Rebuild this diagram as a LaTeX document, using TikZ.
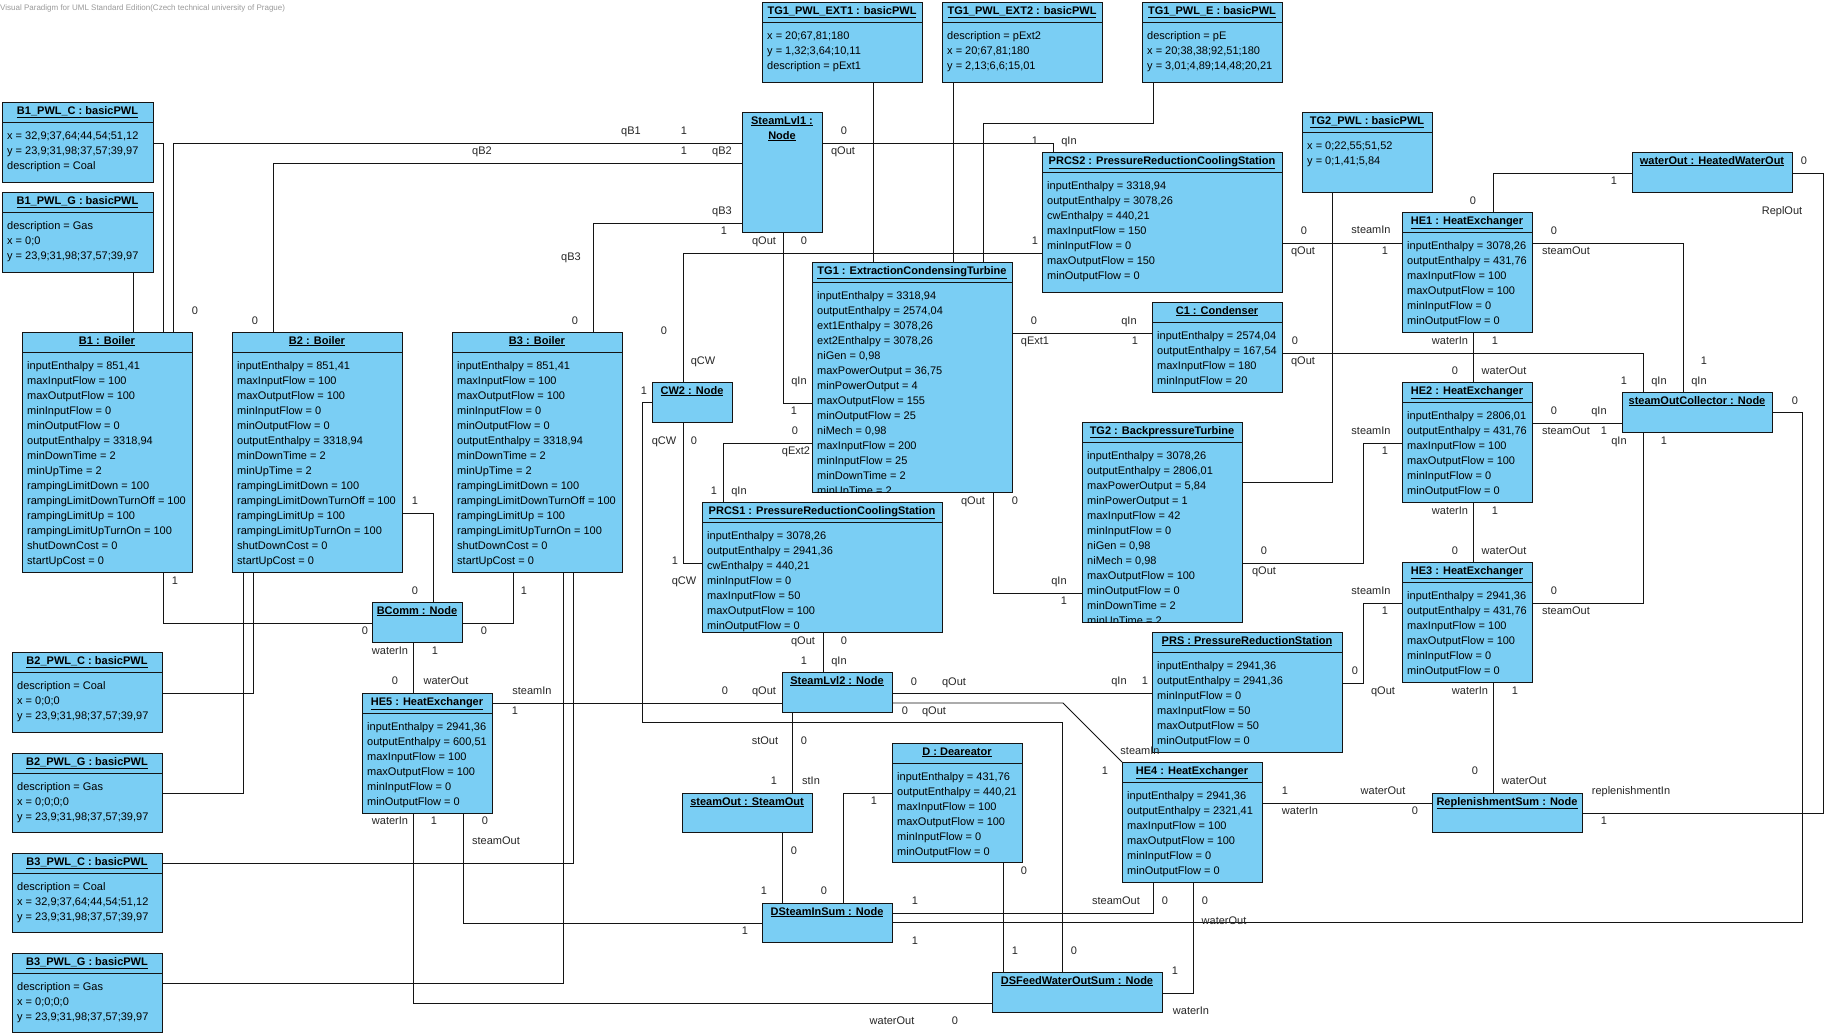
\documentclass[tikz,border=0pt]{standalone}
\usepackage{fontspec}
\setmainfont{Liberation Sans}
\usetikzlibrary{calc}
\definecolor{VPBlue}{HTML}{7ACEF4}
\definecolor{VPInk}{HTML}{141414}
\definecolor{VPGray}{HTML}{9A9A9A}

% object box with attribute compartment: name, x, y, w, h, title, attribute lines
\newcommand{\vpobject}[7]{%
  \node[vpbox, minimum width=#4pt, minimum height=#5pt] (#1) at (#2,#3) {};
  \draw[vpsep] ({#2},{#3+20}) -- ++(#4,0);
  \node[vptitle] (#1-t) at ({#2+#4/2},{#3+12}) {\underline{#6}};
  \begin{scope}
    \clip ({#2},{#3}) rectangle ++(#4,#5);
    \foreach \attr [count=\k] in {#7}
      \node[vpattr] (#1-a\k) at ({#2+5},{#3+22+15*\k}) {\attr};
  \end{scope}
}
% object box with title only: name, x, y, w, h, title
\newcommand{\vpnode}[6]{%
  \node[vpbox, minimum width=#4pt, minimum height=#5pt] (#1) at (#2,#3) {};
  \node[vptitle] (#1-t) at ({#2+#4/2},{#3+12}) {\underline{#6}};
}

\begin{document}
\begin{tikzpicture}[x=1pt, y=-1pt,
  vpbox/.style={draw=VPInk, fill=VPBlue, line width=0.9pt, anchor=north west, inner sep=0pt, outer sep=0pt},
  vpsep/.style={draw=VPInk, line width=0.9pt},
  vptitle/.style={anchor=base, inner sep=0pt, font=\bfseries\fontsize{11}{13}\selectfont},
  vpattr/.style={anchor=base west, inner sep=0pt, font=\fontsize{11}{13}\selectfont},
  vplbl/.style={inner sep=0pt, text height=8pt, text depth=0pt, text=black!85, font=\fontsize{11}{13}\selectfont},
  vpline/.style={draw=VPInk, line width=0.8pt}]

  \fill[white] (0,0) rectangle (1826,1036);
  \useasboundingbox (0,0) rectangle (1826,1036);

  \node[anchor=base west, inner sep=0pt, text=VPGray, font=\fontsize{8}{9}\selectfont] (wm) at (0,10)
    {Visual Paradigm for UML Standard Edition(Czech technical university of Prague)};

  %% Boiler curves and boilers
  \vpobject{B1PC}{2}{102}{151}{80}{B1\_PWL\_C : basicPWL}{{x = 32,9;37,64;44,54;51,12},{y = 23,9;31,98;37,57;39,97},{description = Coal}}
  \vpobject{B1PG}{2}{192}{151}{80}{B1\_PWL\_G : basicPWL}{{description = Gas},{x = 0;0},{y = 23,9;31,98;37,57;39,97}}
  \vpobject{B2PC}{12}{652}{150}{80}{B2\_PWL\_C : basicPWL}{{description = Coal},{x = 0;0;0},{y = 23,9;31,98;37,57;39,97}}
  \vpobject{B2PG}{12}{753}{150}{79}{B2\_PWL\_G : basicPWL}{{description = Gas},{x = 0;0;0;0},{y = 23,9;31,98;37,57;39,97}}
  \vpobject{B3PC}{12}{853}{150}{79}{B3\_PWL\_C : basicPWL}{{description = Coal},{x = 32,9;37,64;44,54;51,12},{y = 23,9;31,98;37,57;39,97}}
  \vpobject{B3PG}{12}{953}{150}{79}{B3\_PWL\_G : basicPWL}{{description = Gas},{x = 0;0;0;0},{y = 23,9;31,98;37,57;39,97}}
  \foreach \bn/\bx in {B1/22, B2/232, B3/452} {%
    \vpobject{\bn}{\bx}{332}{170}{240}{\bn\ : Boiler}{{inputEnthalpy = 851,41},{maxInputFlow = 100},{maxOutputFlow = 100},{minInputFlow = 0},{minOutputFlow = 0},{outputEnthalpy = 3318,94},{minDownTime = 2},{minUpTime = 2},{rampingLimitDown = 100},{rampingLimitDownTurnOff = 100},{rampingLimitUp = 100},{rampingLimitUpTurnOn = 100},{shutDownCost = 0},{startUpCost = 0}}
  }

  %% Turbine curves and turbines
  \vpobject{TG1E1}{762}{2}{160}{80}{TG1\_PWL\_EXT1 : basicPWL}{{x = 20;67,81;180},{y = 1,32;3,64;10,11},{description = pExt1}}
  \vpobject{TG1E2}{942}{2}{160}{80}{TG1\_PWL\_EXT2 : basicPWL}{{description = pExt2},{x = 20;67,81;180},{y = 2,13;6,6;15,01}}
  \vpobject{TG1E}{1142}{2}{140}{80}{TG1\_PWL\_E : basicPWL}{{description = pE},{x = 20;38,38;92,51;180},{y = 3,01;4,89;14,48;20,21}}
  \vpobject{TG2PWL}{1302}{112}{130}{80}{TG2\_PWL : basicPWL}{{x = 0;22,55;51,52},{y = 0;1,41;5,84}}
  \vpobject{TG1}{812}{262}{200}{230}{TG1 : ExtractionCondensingTurbine}{{inputEnthalpy = 3318,94},{outputEnthalpy = 2574,04},{ext1Enthalpy = 3078,26},{ext2Enthalpy = 3078,26},{niGen = 0,98},{maxPowerOutput = 36,75},{minPowerOutput = 4},{maxOutputFlow = 155},{minOutputFlow = 25},{niMech  = 0,98},{maxInputFlow = 200},{minInputFlow = 25},{minDownTime = 2},{minUpTime = 2}}
  \vpobject{TG2}{1082}{422}{160}{200}{TG2 : BackpressureTurbine}{{inputEnthalpy = 3078,26},{outputEnthalpy = 2806,01},{maxPowerOutput = 5,84},{minPowerOutput = 1},{maxInputFlow = 42},{minInputFlow = 0},{niGen = 0,98},{niMech  = 0,98},{maxOutputFlow = 100},{minOutputFlow = 0},{minDownTime = 2},{minUpTime = 2}}
  \vpobject{C1}{1152}{302}{130}{90}{C1 : Condenser}{{inputEnthalpy = 2574,04},{outputEnthalpy = 167,54},{maxInputFlow = 180},{minInputFlow = 20}}

  %% Reduction stations
  \vpobject{PRCS2}{1042}{152}{240}{140}{PRCS2 : PressureReductionCoolingStation}{{inputEnthalpy = 3318,94},{outputEnthalpy = 3078,26},{cwEnthalpy = 440,21},{maxInputFlow = 150},{minInputFlow = 0},{maxOutputFlow = 150},{minOutputFlow = 0}}
  \vpobject{PRCS1}{702}{502}{240}{130}{PRCS1 : PressureReductionCoolingStation}{{inputEnthalpy = 3078,26},{outputEnthalpy = 2941,36},{cwEnthalpy = 440,21},{minInputFlow = 0},{maxInputFlow = 50},{maxOutputFlow = 100},{minOutputFlow = 0}}
  \vpobject{PRS}{1152}{632}{190}{120}{PRS : PressureReductionStation}{{inputEnthalpy = 2941,36},{outputEnthalpy = 2941,36},{minInputFlow = 0},{maxInputFlow = 50},{maxOutputFlow = 50},{minOutputFlow = 0}}

  %% Heat exchangers and deareator
  \vpobject{HE1}{1402}{212}{130}{120}{HE1 : HeatExchanger}{{inputEnthalpy = 3078,26},{outputEnthalpy = 431,76},{maxInputFlow = 100},{maxOutputFlow = 100},{minInputFlow = 0},{minOutputFlow = 0}}
  \vpobject{HE2}{1402}{382}{130}{120}{HE2 : HeatExchanger}{{inputEnthalpy = 2806,01},{outputEnthalpy = 431,76},{maxInputFlow = 100},{maxOutputFlow = 100},{minInputFlow = 0},{minOutputFlow = 0}}
  \vpobject{HE3}{1402}{562}{130}{120}{HE3 : HeatExchanger}{{inputEnthalpy = 2941,36},{outputEnthalpy = 431,76},{maxInputFlow = 100},{maxOutputFlow = 100},{minInputFlow = 0},{minOutputFlow = 0}}
  \vpobject{HE4}{1122}{762}{140}{120}{HE4 : HeatExchanger}{{inputEnthalpy = 2941,36},{outputEnthalpy = 2321,41},{maxInputFlow = 100},{maxOutputFlow = 100},{minInputFlow = 0},{minOutputFlow = 0}}
  \vpobject{HE5}{362}{693}{130}{120}{HE5 : HeatExchanger}{{inputEnthalpy = 2941,36},{outputEnthalpy = 600,51},{maxInputFlow = 100},{maxOutputFlow = 100},{minInputFlow = 0},{minOutputFlow = 0}}
  \vpobject{D}{892}{743}{130}{119}{D : Deareator}{{inputEnthalpy = 431,76},{outputEnthalpy = 440,21},{maxInputFlow = 100},{maxOutputFlow = 100},{minInputFlow = 0},{minOutputFlow = 0}}

  %% Nodes
  \node[vpbox, minimum width=80pt, minimum height=120pt] (SL1) at (742,112) {};
  \node[vptitle] (SL1-t) at (782,124) {\underline{SteamLvl1 :}};
  \node[vptitle] (SL1-u) at (782,139) {\underline{Node}};
  \vpnode{WO}{1632}{152}{160}{40}{waterOut : HeatedWaterOut}
  \vpnode{CW2}{652}{382}{80}{40}{CW2 : Node}
  \vpnode{SOC}{1622}{392}{150}{40}{steamOutCollector : Node}
  \vpnode{BC}{372}{602}{90}{40}{BComm : Node}
  \vpnode{SL2}{782}{672}{110}{40}{SteamLvl2 : Node}
  \vpnode{SO}{682}{793}{130}{39}{steamOut : SteamOut}
  \vpnode{RS}{1432}{793}{150}{39}{ReplenishmentSum : Node}
  \vpnode{DSIS}{762}{903}{130}{39}{DSteamInSum : Node}
  \vpnode{DSFW}{992}{972}{170}{40}{DSFeedWaterOutSum : Node}

  %% Links: curves to their units
  \draw[vpline] (B1PG.south -| 133,0) -- (B1.north -| 133,0);
  \draw[vpline] (B1PC.east |- 0,143) -| (B1.north -| 163,0);
  \draw[vpline] (B2PC.east |- 0,693) -| (B2.south -| 253,0);
  \draw[vpline] (B2PG.east |- 0,793) -| (B2.south -| 243,0);
  \draw[vpline] (B3PC.east |- 0,863) -| (B3.south -| 573,0);
  \draw[vpline] (B3PG.east |- 0,983) -| (B3.south -| 563,0);
  \draw[vpline] (TG1E1.south -| 873,0) -- (TG1.north -| 873,0);
  \draw[vpline] (TG1E2.south -| 953,0) -- (TG1.north -| 953,0);
  \draw[vpline] (TG1E.south -| 1153,0) |- (983,123) -- (TG1.north -| 983,0);
  \draw[vpline] (TG2PWL.south -| 1332,0) |- (TG2.east |- 0,482);

  %% Links: steam level 1
  \draw[vpline] (B1.north -| 173,0) |- (SL1.west |- 0,143);
  \draw[vpline] (B2.north -| 273,0) |- (SL1.west |- 0,163);
  \draw[vpline] (B3.north -| 593,0) |- (SL1.west |- 0,223);
  \draw[vpline] (SL1.east |- 0,143) -| (PRCS2.north -| 1053,0);
  \draw[vpline] (SL1.south -| 783,0) |- (TG1.west |- 0,403);
  \draw[vpline] (PRCS2.west |- 0,253) -| (CW2.north -| 683,0);
  \draw[vpline] (CW2.south -| 683,0) |- (PRCS1.west |- 0,563);
  \draw[vpline] (CW2.west |- 0,402) -| (642,722) -| (DSFW.north -| 1062,0);

  %% Links: turbines, condenser, exchangers
  \draw[vpline] (PRCS2.east |- 0,243) -- (HE1.west |- 0,243);
  \draw[vpline] (TG1.east |- 0,333) -- (C1.west |- 0,333);
  \draw[vpline] (TG1.west |- 0,443) -| (PRCS1.north -| 723,0);
  \draw[vpline] (TG1.south -| 993,0) |- (TG2.west |- 0,593);
  \draw[vpline] (TG2.east |- 0,563) -| (1363,443) -- (HE2.west |- 0,443);
  \draw[vpline] (PRS.east |- 0,683) -| (1363,603) -- (HE3.west |- 0,603);
  \draw[vpline] (C1.east |- 0,353) -| (SOC.north -| 1643,0);
  \draw[vpline] (HE1.east |- 0,243) -| (SOC.north -| 1683,0);
  \draw[vpline] (HE2.east |- 0,423) -- (SOC.west |- 0,423);
  \draw[vpline] (HE3.east |- 0,603) -| (SOC.south -| 1643,0);
  \draw[vpline] (SOC.east |- 0,412) -| (1802,922) -- (DSIS.east |- 0,922);
  \draw[vpline] (HE1.north -| 1493,0) |- (WO.west |- 0,173);
  \draw[vpline] (WO.east |- 0,173) -| (1823,813) -- (RS.east |- 0,813);
  \draw[vpline] (HE1.south -| 1473,0) -- (HE2.north -| 1473,0);
  \draw[vpline] (HE2.south -| 1473,0) -- (HE3.north -| 1473,0);
  \draw[vpline] (HE3.south -| 1493,0) -- (RS.north -| 1493,0);
  \draw[vpline] (HE4.east |- 0,803) -- (RS.west |- 0,803);

  %% Links: boiler water and steam level 2
  \draw[vpline] (B1.south -| 163,0) |- (BC.west |- 0,623);
  \draw[vpline] (B2.east |- 0,513) -| (BC.north -| 433,0);
  \draw[vpline] (B3.south -| 513,0) |- (BC.east |- 0,623);
  \draw[vpline] (BC.south -| 413,0) -- (HE5.north -| 413,0);
  \draw[vpline] (HE5.east |- 0,703) -- (SL2.west |- 0,703);
  \draw[vpline] (PRCS1.south -| 823,0) -- (SL2.north -| 823,0);
  \draw[vpline] (SL2.east |- 0,693) -- (PRS.west |- 0,693);
  \draw[vpline] (SL2.east |- 0,703) -- (1063,703) -- (HE4.north west);
  \draw[vpline] (SL2.south -| 792,0) -- (SO.north -| 792,0);
  \draw[vpline] (SO.south -| 782,0) -- (DSIS.north -| 782,0);
  \draw[vpline] (DSIS.north -| 843,0) |- (D.west |- 0,793);
  \draw[vpline] (HE5.south -| 463,0) |- (DSIS.west |- 0,923);
  \draw[vpline] (HE5.south -| 413,0) |- (DSFW.west |- 0,1003);
  \draw[vpline] (HE4.south -| 1153,0) |- (DSIS.east |- 0,913);
  \draw[vpline] (D.south -| 1003,0) -- (DSFW.north -| 1003,0);
  \draw[vpline] (HE4.south -| 1193,0) |- (DSFW.east |- 0,993);

  %% Role names and multiplicities
  \foreach \lx/\ly/\lt [count=\i] in {
      195/310/0, 631/130/qB1, 684/130/1,
      255/320/0, 482/150/qB2, 684/150/1, 722/150/qB2,
      575/320/0, 571/256/qB3, 722/210/qB3, 724/230/1,
      844/130/0, 843/150/qOut, 1035/140/1, 1069/140/qIn,
      764/240/qOut, 804/240/0, 799/380/qIn, 794/410/1,
      1035/240/1, 664/330/0, 703/360/qCW,
      1304/230/0, 1303/250/qOut, 1371/229/steamIn, 1385/250/1,
      1473/200/0, 1614/180/1,
      1804/160/0, 1782/210/ReplOut, 1631/790/replenishmentIn, 1604/820/1,
      1554/230/0, 1566/250/steamOut, 1704/360/1, 1699/380/qIn,
      1034/320/0, 1035/340/qExt1, 1129/320/qIn, 1135/340/1,
      1295/340/0, 1303/360/qOut, 1624/380/1, 1659/380/qIn,
      1450/340/waterIn, 1495/340/1, 1455/370/0, 1504/370/waterOut,
      1554/410/0, 1599/410/qIn, 1566/430/steamOut, 1604/430/1,
      1795/400/0, 915/940/1,
      664/440/qCW, 694/440/0, 675/560/1, 684/580/qCW,
      644/390/1, 1074/950/0,
      795/430/0, 796/450/qExt2, 714/490/1, 739/490/qIn,
      973/500/qOut, 1015/500/0, 1059/580/qIn, 1064/600/1,
      1264/550/0, 1264/570/qOut, 1371/430/steamIn, 1385/450/1,
      1355/670/0, 1383/690/qOut, 1371/590/steamIn, 1385/610/1,
      1450/510/waterIn, 1495/510/1, 1455/550/0, 1504/550/waterOut,
      1554/590/0, 1566/610/steamOut, 1619/440/qIn, 1664/440/1,
      1470/690/waterIn, 1515/690/1, 1475/770/0, 1524/780/waterOut,
      1285/790/1, 1300/810/waterIn, 1383/790/waterOut, 1415/810/0,
      175/580/1, 365/630/0, 415/500/1, 415/590/0, 524/590/1, 484/630/0,
      390/650/waterIn, 435/650/1, 395/680/0, 446/680/waterOut,
      532/690/steamIn, 515/710/1, 725/690/0, 764/690/qOut,
      803/640/qOut, 844/640/0, 804/660/1, 839/660/qIn,
      914/681/0, 954/681/qOut, 1119/680/qIn, 1145/680/1,
      905/710/0, 934/710/qOut, 1140/750/steamIn, 1105/770/1,
      485/820/0, 496/840/steamOut, 745/930/1,
      390/820/waterIn, 434/820/1, 892/1020/waterOut, 955/1020/0,
      765/740/stOut, 804/740/0, 774/780/1, 811/780/stIn,
      794/850/0, 764/890/1, 824/890/0, 874/800/1,
      1116/900/steamOut, 1165/900/0, 915/900/1,
      1024/870/0, 1015/950/1,
      1205/900/0, 1224/920/waterOut, 1175/970/1, 1191/1010/waterIn}
    \node[vplbl] (lab\i) at (\lx,\ly) {\lt};
\end{tikzpicture}
\end{document}
